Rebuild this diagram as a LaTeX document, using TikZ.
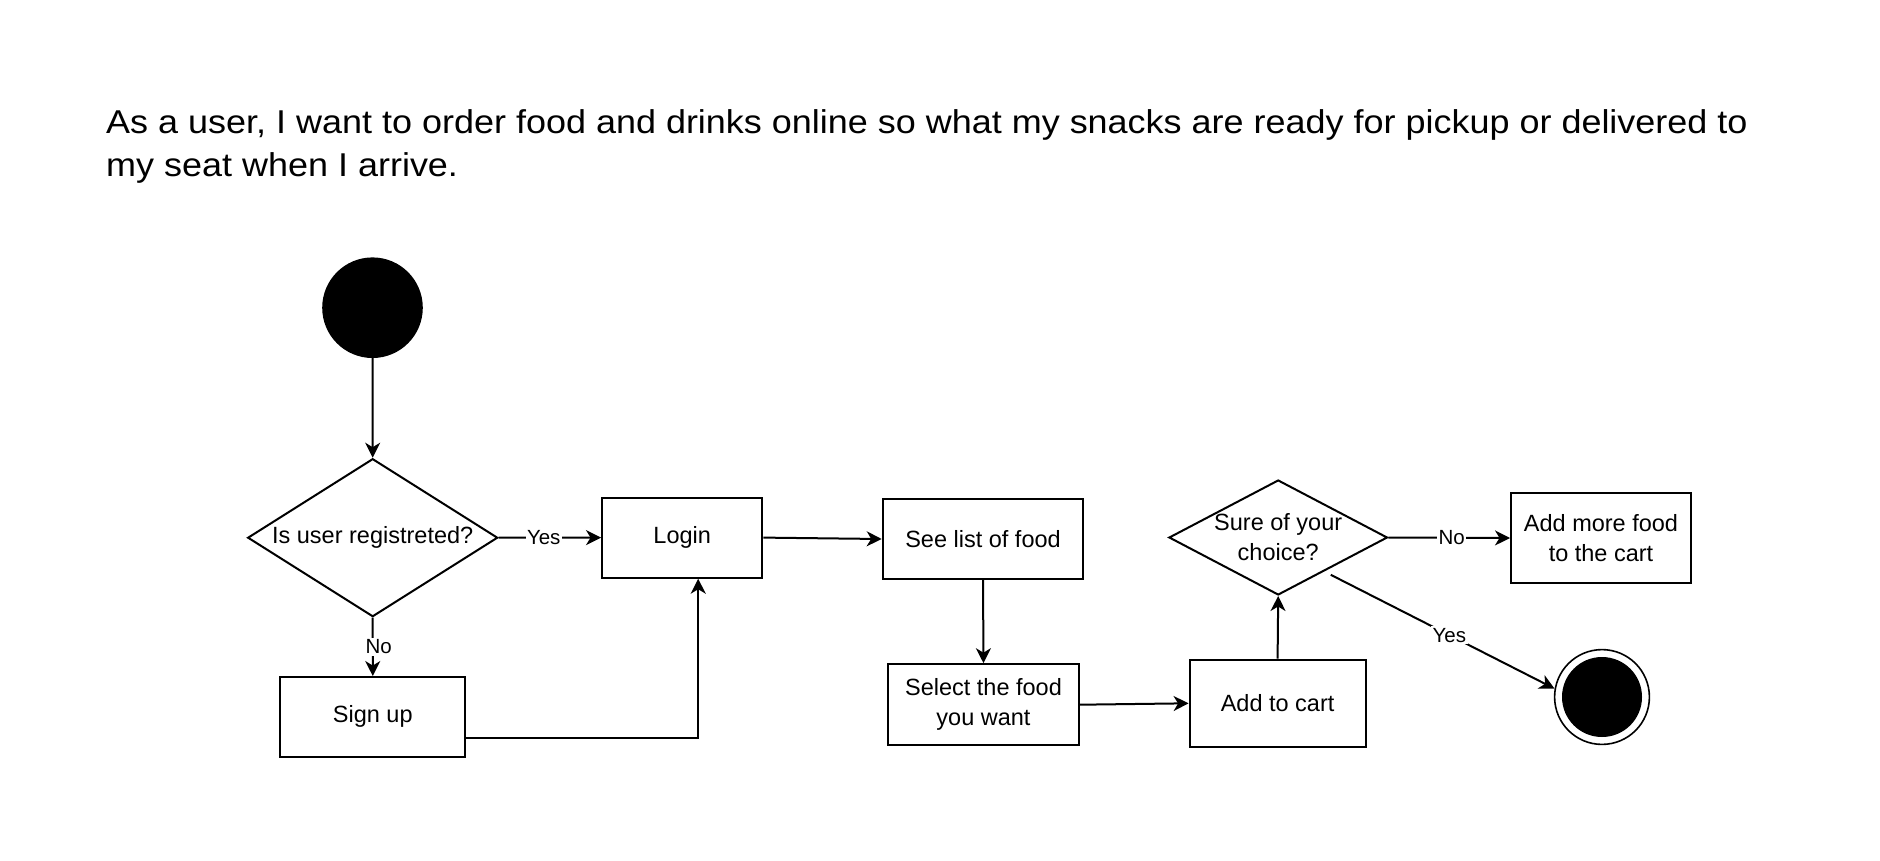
\documentclass[tikz,border=0pt]{standalone}
\usepackage{fontspec}
\setmainfont{Liberation Sans}
\newfontfamily\titlefont[FakeStretch=1.09]{Liberation Sans}
\usetikzlibrary{shapes.geometric,arrows.meta}
\tikzset{
  box/.style={draw, line width=2pt, rectangle, align=center, inner sep=2pt, font=\fontsize{23.5}{30}\selectfont},
  dec/.style={draw, line width=2pt, diamond, align=center, inner sep=0pt, font=\fontsize{23.5}{30}\selectfont},
  arr/.style={line width=2pt, -{Stealth[length=15pt,width=15pt,inset=4.5pt]}},
  lab/.style={fill=white, inner sep=1.5pt, font=\fontsize{20.5}{24}\selectfont},
  ttl/.style={anchor=base west, inner sep=0pt, font=\titlefont\fontsize{33}{42.7}\selectfont}
}
\begin{document}
\begin{tikzpicture}[x=1pt,y=-1pt]
\useasboundingbox (0,0) rectangle (1880,860);
\fill[white] (0,0) rectangle (1880,860);
\node[ttl] (title1) at (106,133.3) {As a user, I want to order food and drinks online so what my snacks are ready for pickup or delivered to};
\node[ttl] (title2) at (106,176) {my seat when I arrive.};

\node[circle, fill=black, minimum size=100.6pt, inner sep=0pt] (start) at (372.5,307.7) {};
\node[dec, shape aspect=1.58, minimum width=250pt, minimum height=158pt] (dia1) at (372.7,537.7) {Is user registreted?};
\node[box, minimum width=160.3pt, minimum height=80.2pt] (login) at (682.2,537.6) {Login};
\node[box, minimum width=185.2pt, minimum height=79.5pt] (signup) at (372.8,716.8) {Sign up};
\node[box, minimum width=200.6pt, minimum height=80pt] (seelist) at (983,539) {See list of food};
\node[box, minimum width=191pt, minimum height=81pt] (select) at (983.5,704.7) {Select the food\\you want};
\node[box, minimum width=176pt, minimum height=87.5pt] (addcart) at (1277.6,703.3) {Add to cart};
\node[dec, shape aspect=1.9, minimum width=218.5pt, minimum height=115pt] (dia2) at (1278.2,537.5) {Sure of your\\choice?};
\node[box, minimum width=180pt, minimum height=90pt] (addmore) at (1601,538) {Add more food\\to the cart};
\node[circle, draw, line width=1.6pt, minimum size=94.8pt, inner sep=0pt] (endc) at (1602,697) {};
\node[circle, fill=black, minimum size=80pt, inner sep=0pt] (endin) at (1602,697) {};

\draw[arr] (start) -- (dia1.north);
\draw[arr] (dia1.east) -- node[lab, pos=0.44] {Yes} (login.west);
\draw[arr] (dia1.south) -- node[lab, pos=0.5, xshift=6pt] {No} (signup.north);
\draw[arr] ([xshift=-2pt,yshift=-21pt]signup.east) -| ([xshift=16pt]login.south);
\draw[arr] (login.east) -- (seelist.west);
\draw[arr] (seelist.south) -- (select.north);
\draw[arr] (select.east) -- (addcart.west);
\draw[arr] (addcart.north) -- (dia2.south);
\draw[arr] (dia2.east) -- node[lab, pos=0.52] {No} (addmore.west);
\draw[arr] ([shift={(5pt,-4pt)}]dia2.-35) -- node[lab, pos=0.53] {Yes} (endc.170);
\end{tikzpicture}
\end{document}
